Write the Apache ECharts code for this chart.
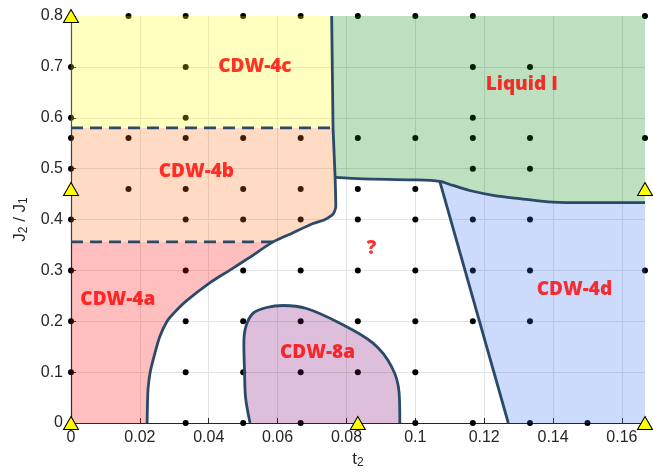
<!DOCTYPE html>
<html><head><meta charset="utf-8">
<script src="https://cdn.jsdelivr.net/npm/echarts@6/dist/echarts.min.js"></script>
<style>html,body{margin:0;padding:0;background:#fff}#c{width:653px;height:474px}</style>
</head><body><div id="c"></div>
<script>
// ---- tick labels ----
const xTickLabels = ['0','0.02','0.04','0.06','0.08','0.1','0.12','0.14','0.16'];
const yTickLabels = ['0','0.1','0.2','0.3','0.4','0.5','0.6','0.7','0.8'];

// ---- simulation points (t2, J2/J1) ----
const dots = [
  [0.0167,0.8],[0.0333,0.8],[0.05,0.8],[0.0667,0.8],[0.0833,0.8],[0.1,0.8],[0.1167,0.8],[0.1667,0.8],
  [0,0.7],[0.0333,0.7],[0.1167,0.7],[0.1333,0.7],
  [0,0.6],[0.0333,0.6],[0.1167,0.6],
  [0,0.56],[0.0167,0.56],[0.0333,0.56],[0.05,0.56],[0.0667,0.56],[0.0833,0.56],[0.1,0.56],[0.1167,0.56],[0.1333,0.56],[0.1667,0.56],
  [0,0.5],[0.1167,0.5],[0.1333,0.5],
  [0.0167,0.46],[0.0333,0.46],[0.05,0.46],[0.0667,0.46],[0.0833,0.46],[0.1,0.46],
  [0,0.4],[0.0333,0.4],[0.05,0.4],[0.0667,0.4],[0.0833,0.4],[0.1,0.4],[0.1167,0.4],[0.1333,0.4],
  [0,0.3],[0.0333,0.3],[0.05,0.3],[0.0667,0.3],[0.0833,0.3],[0.1,0.3],[0.1167,0.3],[0.1333,0.3],[0.1667,0.3],
  [0,0.2],[0.0333,0.2],[0.05,0.2],[0.0667,0.2],[0.0833,0.2],[0.1,0.2],[0.1167,0.2],[0.1333,0.2],
  [0,0.1],[0.0333,0.1],[0.05,0.1],[0.0667,0.1],[0.0833,0.1],[0.1,0.1],
  [0.0333,0],[0.05,0],[0.0667,0],[0.1,0],[0.1167,0],[0.1333,0],[0.15,0]
];
const triangles = [[0,0],[0,0.46],[0,0.8],[0.0833,0],[0.1667,0],[0.1667,0.46]];

// ---- phase boundaries ----
const vLine = [[0.0757,0.8],[0.0761,0.58],[0.0767,0.483]];
const curveA = [[0.0767,0.483],[0.0769,0.425],[0.0764,0.414],[0.0757,0.408],[0.0735,0.399],[0.0703,0.392],
  [0.0645,0.374],[0.0587,0.356],[0.052,0.326],[0.0465,0.302],[0.040,0.274],[0.0335,0.240],[0.0300,0.217],
  [0.0279,0.200],[0.0258,0.170],[0.0242,0.133],[0.0230,0.100],[0.0224,0.069],[0.0222,0.035],[0.0221,0]];
const curveB = [[0.0767,0.483],[0.0848,0.480],[0.0993,0.478],[0.1071,0.475],[0.1109,0.467],[0.1158,0.457],
  [0.1230,0.447],[0.1303,0.441],[0.1400,0.434],[0.1500,0.433],[0.1667,0.433]];
const curveC = [[0.1071,0.475],[0.127,0]];
const blob = [[0.0520,0],[0.0507,0.05],[0.0504,0.10],[0.0502,0.157],[0.0508,0.190],[0.0529,0.216],
  [0.0568,0.227],[0.0616,0.231],[0.0684,0.225],[0.0781,0.196],[0.0877,0.157],[0.0931,0.111],[0.0953,0.059],[0.0955,0]];
const dash1 = [[0,0.58],[0.0761,0.58]];
const dash2 = [[0,0.356],[0.0587,0.356]];

// ---- phase labels ----
const labelNames = ['CDW-4c','CDW-4b','CDW-4a','CDW-8a','Liquid I','CDW-4d','?'];
const labelPos = [[0.0534,0.700],[0.0364,0.494],[0.0136,0.242],[0.0716,0.139],[0.1309,0.665],[0.1462,0.263],[0.0873,0.342]];

// build region polygons from boundaries
const iA = 7; // index of [0.0587,0.356] in curveA
const iB = 3; // index of junction in curveB
const regions = [
  {color:'rgba(255,255,0,0.25)', pts:[[0,0.8],vLine[0],vLine[1],[0,0.58]]},
  {color:'rgba(250,110,10,0.25)', pts:[[0,0.58],vLine[1]].concat(curveA.slice(0,iA+1),[[0,0.356]])},
  {color:'rgba(255,0,0,0.25)', pts:[[0,0.356]].concat(curveA.slice(iA),[[0,0]])},
  {color:'rgba(0,128,8,0.25)', pts:[vLine[0],[0.1667,0.8]].concat(curveB.slice().reverse(),[vLine[1]])},
  {color:'rgba(51,107,240,0.25)', pts:curveB.slice(iB).concat([[0.1667,0],curveC[1]])},
  {color:'rgba(120,0,110,0.25)', pts:blob}
];

const lineColor = '#2b4a6a';
function lineSeries(d, smooth, dashed){
  return {type:'line', data:d, smooth:smooth, symbol:'none', z:4, silent:true, clip:false,
    lineStyle:{color:lineColor, width:2.8, type: dashed ? [12,7] : 'solid', cap:'butt'}};
}

const chart = echarts.init(document.getElementById('c'), null, {renderer:'canvas'});
const axisColor = '#262626';
const nameRich = {n:{fontSize:17, fontFamily:'Liberation Sans', color:axisColor, lineHeight:20},
  s:{fontSize:12, fontFamily:'Liberation Sans', color:axisColor, verticalAlign:'bottom', lineHeight:8}};
chart.setOption({
  animation:false,
  backgroundColor:'#fff',
  grid:{left:71, right:8, top:16, bottom:49, containLabel:false},
  xAxis:{type:'value', min:0, max:0.1667, interval:0.02,
    name:'{n|t}{s|2}', nameLocation:'middle', nameGap:26, nameMoveOverlap:false,
    nameTextStyle:{rich:nameRich},
    axisLine:{show:true, onZero:false, lineStyle:{color:axisColor, width:1.2}},
    axisTick:{show:true, inside:true, length:5, lineStyle:{color:axisColor}},
    axisLabel:{fontSize:16, fontFamily:'Liberation Sans', color:axisColor, margin:7, showMaxLabel:false,
      formatter:v=>{const i=Math.round(v/0.02); return Math.abs(v-i*0.02)<1e-6 ? xTickLabels[i] : '';}},
    splitLine:{show:true, showMaxLine:false, lineStyle:{color:'#e3e3e3', width:1}}
  },
  yAxis:{type:'value', min:0, max:0.8, interval:0.1,
    name:'{n|J}{s|2}{n| / J}{s|1}', nameLocation:'middle', nameGap:41, nameRotate:90, nameMoveOverlap:false,
    nameTextStyle:{rich:nameRich},
    axisLine:{show:true, onZero:false, lineStyle:{color:axisColor, width:1.2}},
    axisTick:{show:true, inside:true, length:5, lineStyle:{color:axisColor}},
    axisLabel:{fontSize:16, fontFamily:'Liberation Sans', color:axisColor, margin:8,
      formatter:v=>yTickLabels[Math.round(v/0.1)]},
    splitLine:{show:true, showMaxLine:false, lineStyle:{color:'#e3e3e3', width:1}}
  },
  series:[
    {type:'scatter', data:dots, symbol:'circle', symbolSize:6, z:2, clip:false, silent:true,
      itemStyle:{color:'#000', opacity:1}},
    {type:'custom', z:3, silent:true, clip:false,
      data:regions.map(()=>[0,0]),
      renderItem:(params, api)=>{
        const r = regions[params.dataIndex];
        return {type:'polygon', shape:{points:r.pts.map(p=>api.coord(p))}, style:{fill:r.color, stroke:null}};
      }},
    lineSeries(vLine,false,false),
    lineSeries(curveA,0.3,false),
    lineSeries(curveB,0.3,false),
    lineSeries(curveC,false,false),
    lineSeries(blob,0.35,false),
    lineSeries(dash1,false,true),
    lineSeries(dash2,false,true),
    {type:'scatter', data:triangles, symbol:'triangle', symbolSize:[15,13], z:10, clip:false, silent:true,
      itemStyle:{color:'#ffff00', borderColor:'#000', borderWidth:1, opacity:1}},
    {type:'scatter', z:11, silent:true, clip:false, symbolSize:1,
      itemStyle:{color:'rgba(0,0,0,0)'},
      data:labelNames.map((n,i)=>({name:n, value:labelPos[i]})),
      label:{show:true, position:'inside', formatter:'{b}', color:'#ff0000', fontSize:19,
        fontWeight:800, fontFamily:'Open Sans'}}
  ]
});
</script></body></html>
